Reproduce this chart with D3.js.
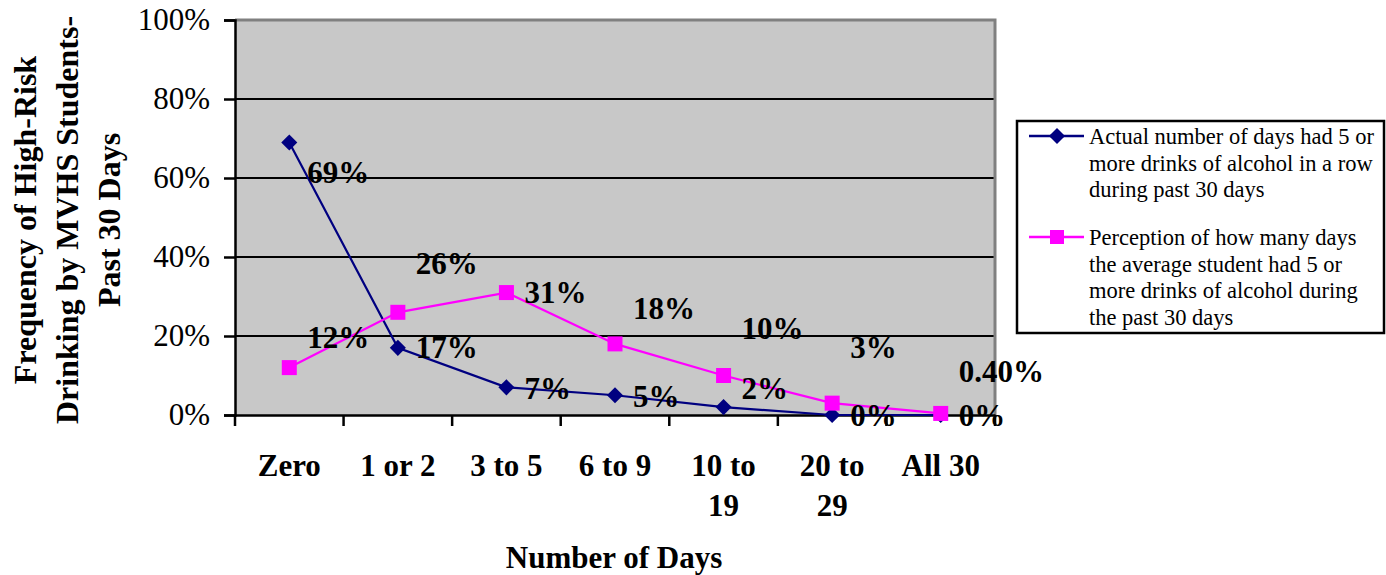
<!DOCTYPE html>
<html><head><meta charset="utf-8">
<script src="https://cdn.jsdelivr.net/npm/d3@7"></script>
<style>body{margin:0;background:#fff}svg{display:block}</style>
</head><body>
<script>
const categories = ["Zero", "1 or 2", "3 to 5", "6 to 9", "10 to 19", "20 to 29", "All 30"];
const categoryLines = [["Zero"], ["1 or 2"], ["3 to 5"], ["6 to 9"], ["10 to", "19"], ["20 to", "29"], ["All 30"]];
const actualValues = [69, 17, 7, 5, 2, 0, 0];
const perceptionValues = [12, 26, 31, 18, 10, 3, 0.4];
const actualLabels = ["69%", "17%", "7%", "5%", "2%", "0%", "0%"];
const perceptionLabels = ["12%", "26%", "31%", "18%", "10%", "3%", "0.40%"];
const yTicks = [0, 20, 40, 60, 80, 100];
const seriesNames = [
  ["Actual number of days had 5 or", "more drinks of alcohol in a row", "during past 30 days"],
  ["Perception of how many days", "the average student had 5 or", "more drinks of alcohol during", "the past 30 days"]
];
// layout: vertical nudges of data labels (px)
const actualLabelDy = [30, 0, 1, 1, -19, 0, 0];
const perceptionLabelDy = [-30, -49, 0, -35, -47, -56, -42];

const W = 1386, H = 575;
const L = 235, R = 995, T = 20, B = 415;
const svg = d3.select("body").append("svg").attr("width", W).attr("height", H);
const serif = "'Liberation Serif','Times New Roman',serif";

const x = d3.scaleBand().domain(categories).range([L, R]).padding(0);
const y = d3.scaleLinear().domain([0, 100]).range([B, T]);
const cx = c => x(c) + x.bandwidth() / 2;

// plot area
svg.append("rect").attr("x", L).attr("y", T).attr("width", R - L).attr("height", B - T).attr("fill", "#c8c8c8");
// gridlines
svg.append("g").selectAll("line").data(yTicks.filter(t => t > 0 && t < 100)).join("line")
  .attr("x1", L).attr("x2", R).attr("y1", d => y(d)).attr("y2", d => y(d))
  .attr("stroke", "#000").attr("stroke-width", 2);
// top & right border
svg.append("path").attr("d", `M${L},${T}H${R}V${B}`).attr("fill", "none").attr("stroke", "#808080").attr("stroke-width", 3);

// y axis
const yAxis = d3.axisLeft(y).tickValues(yTicks).tickFormat(d => d + "%").tickSize(11).tickPadding(14);
const gy = svg.append("g").attr("transform", `translate(${L},0)`).call(yAxis);
gy.select(".domain").attr("stroke", "#000").attr("stroke-width", 2.5);
gy.selectAll(".tick line").attr("stroke", "#000").attr("stroke-width", 2.5);
gy.selectAll(".tick text").attr("font-family", serif).attr("font-size", 31).attr("fill", "#000");

// x axis
const xAxis = d3.axisBottom(x).tickSize(0).tickFormat("");
const gx = svg.append("g").attr("transform", `translate(0,${B})`).call(xAxis);
gx.select(".domain").attr("stroke", "#000").attr("stroke-width", 2.5);
const bounds = categories.map(c => x(c)).concat([R]);
svg.append("g").selectAll("line").data(bounds).join("line")
  .attr("x1", d => d).attr("x2", d => d).attr("y1", B).attr("y2", B + 11)
  .attr("stroke", "#000").attr("stroke-width", 2.5);
// x labels
categoryLines.forEach((lines, i) => {
  const t = svg.append("text").attr("font-family", serif).attr("font-size", 31).attr("font-weight", "bold")
    .attr("text-anchor", "middle").attr("fill", "#000");
  lines.forEach((ln, j) => t.append("tspan").attr("x", cx(categories[i])).attr("y", 476 + j * 40).text(ln));
});

// axis titles
svg.append("text").attr("x", 614).attr("y", 568).attr("text-anchor", "middle")
  .attr("font-family", serif).attr("font-size", 31).attr("font-weight", "bold").text("Number of Days");
const yt = svg.append("text").attr("transform", "translate(0,220) rotate(-90)")
  .attr("text-anchor", "middle").attr("font-family", serif).attr("font-size", 32).attr("font-weight", "bold");
["Frequency of High-Risk", "Drinking by MVHS Students-", "Past 30 Days"].forEach((ln, j) =>
  yt.append("tspan").attr("x", 0).attr("y", 36 + j * 42).text(ln));

// lines
const line = d3.line().x((d, i) => cx(categories[i])).y(d => y(d));
svg.append("path").datum(actualValues).attr("d", line).attr("fill", "none").attr("stroke", "#000080").attr("stroke-width", 2.2);
svg.append("path").datum(perceptionValues).attr("d", line).attr("fill", "none").attr("stroke", "#ff00ff").attr("stroke-width", 2.2);

const diamond = d3.symbol().type(d3.symbolDiamond2).size(165);
svg.append("g").selectAll("path").data(actualValues).join("path")
  .attr("d", diamond).attr("transform", (d, i) => `translate(${cx(categories[i])},${y(d)})`)
  .attr("fill", "#000080");
svg.append("g").selectAll("rect").data(perceptionValues).join("rect")
  .attr("x", (d, i) => cx(categories[i]) - 7.5).attr("y", d => y(d) - 7.5)
  .attr("width", 15).attr("height", 15).attr("fill", "#ff00ff");

// data labels
function labels(vals, texts, dys) {
  svg.append("g").selectAll("text").data(vals).join("text")
    .attr("x", (d, i) => cx(categories[i]) + 18)
    .attr("y", (d, i) => y(d) + dys[i] + 10.5)
    .attr("font-family", serif).attr("font-size", 31).attr("font-weight", "bold").attr("fill", "#000")
    .text((d, i) => texts[i]);
}
labels(perceptionValues, perceptionLabels, perceptionLabelDy);
labels(actualValues, actualLabels, actualLabelDy);

// legend
const lg = svg.append("g");
lg.append("rect").attr("x", 1017).attr("y", 121).attr("width", 367).attr("height", 212)
  .attr("fill", "#fff").attr("stroke", "#000").attr("stroke-width", 2.5);
const entryY = [136, 237];
const colors = ["#000080", "#ff00ff"];
seriesNames.forEach((lines, k) => {
  lg.append("line").attr("x1", 1029).attr("x2", 1084).attr("y1", entryY[k]).attr("y2", entryY[k])
    .attr("stroke", colors[k]).attr("stroke-width", 2.5);
  if (k === 0) {
    lg.append("path").attr("d", diamond).attr("transform", `translate(1057,${entryY[k]})`).attr("fill", colors[k]);
  } else {
    lg.append("rect").attr("x", 1050).attr("y", entryY[k] - 7).attr("width", 14).attr("height", 14).attr("fill", colors[k]);
  }
  const t = lg.append("text").attr("font-family", serif).attr("font-size", 22.5).attr("fill", "#000");
  lines.forEach((ln, j) => t.append("tspan").attr("x", 1089).attr("y", entryY[k] + 8 + j * 26.5).text(ln));
});
</script>
</body></html>
